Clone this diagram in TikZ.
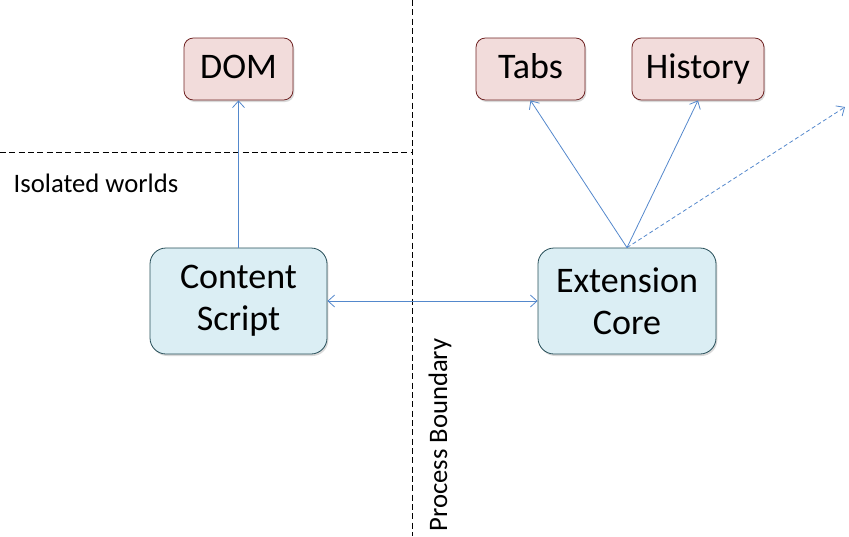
\documentclass[tikz,border=0pt]{standalone}
\usepackage{fontspec}
\setmainfont{Carlito}
\usetikzlibrary{arrows.meta,shadows}
\definecolor{linkblue}{RGB}{84,136,204}
\definecolor{apifill}{RGB}{242,220,219}
\definecolor{apiedge}{RGB}{112,36,36}
\definecolor{scriptfill}{RGB}{219,238,244}
\definecolor{scriptedge}{RGB}{38,78,88}
\tikzset{
  softshadow/.style={drop shadow={shadow xshift=1pt,shadow yshift=-1.5pt,
    opacity=0.25,fill=black!60}},
  apibox/.style={draw=apiedge,fill=apifill,rounded corners=7pt,line width=0.6pt,
    minimum height=46.5pt,inner sep=0pt,text height=19pt,text depth=4.8pt,
    font=\fontsize{27}{32}\selectfont,softshadow},
  corebox/.style={draw=scriptedge,fill=scriptfill,rounded corners=12pt,line width=0.6pt,
    minimum height=79.5pt,inner sep=0pt,align=center,
    font=\fontsize{27}{31.5}\selectfont,softshadow},
  link/.style={draw=linkblue,line width=0.6pt,-{Straight Barb[length=5pt,width=9pt]}},
  boundary/.style={line width=0.75pt,dash pattern=on 4.5pt off 2.5pt},
  caption/.style={font=\fontsize{20}{24}\selectfont},
}
\begin{document}
\begin{tikzpicture}[x=0.75pt,y=-0.75pt]
\useasboundingbox (0,0) rectangle (849,536);
% process and world boundaries
\coordinate (topcut) at (412,0);
\coordinate (botcut) at (412,536);
\coordinate (leftcut) at (0,152);
\coordinate (midcut) at (412,152);
\draw[boundary] (topcut) -- (botcut);
\draw[boundary] (leftcut) -- (midcut);
\node[caption,anchor=west] (worlds) at (9,183) {Isolated worlds};
\node[caption,rotate=90] (procb) at (440,435) {Process Boundary};
% page side
\node[apibox,minimum width=81.75pt] (dom) at (238.5,69) {DOM};
\node[corebox,minimum width=132.75pt] (content) at (238.5,301) {Content\\Script};
% extension side
\node[apibox,minimum width=81.75pt] (tabs) at (530.5,69) {Tabs};
\node[apibox,minimum width=99pt] (history) at (698,69) {History};
\node[corebox,minimum width=133.5pt] (core) at (627,301) {Extension\\Core};
\coordinate (more) at (845,107);
% links
\draw[link] (content.north) -- (dom.south);
\draw[link,{Straight Barb[length=5pt,width=9pt]}-{Straight Barb[length=5pt,width=9pt]}]
  (content.east) -- (core.west);
\draw[link] (core.north) -- (tabs.south);
\draw[link] (core.north) -- (history.south);
\draw[link,dash pattern=on 3pt off 2pt] (core.north) -- (more);
\end{tikzpicture}
\end{document}
